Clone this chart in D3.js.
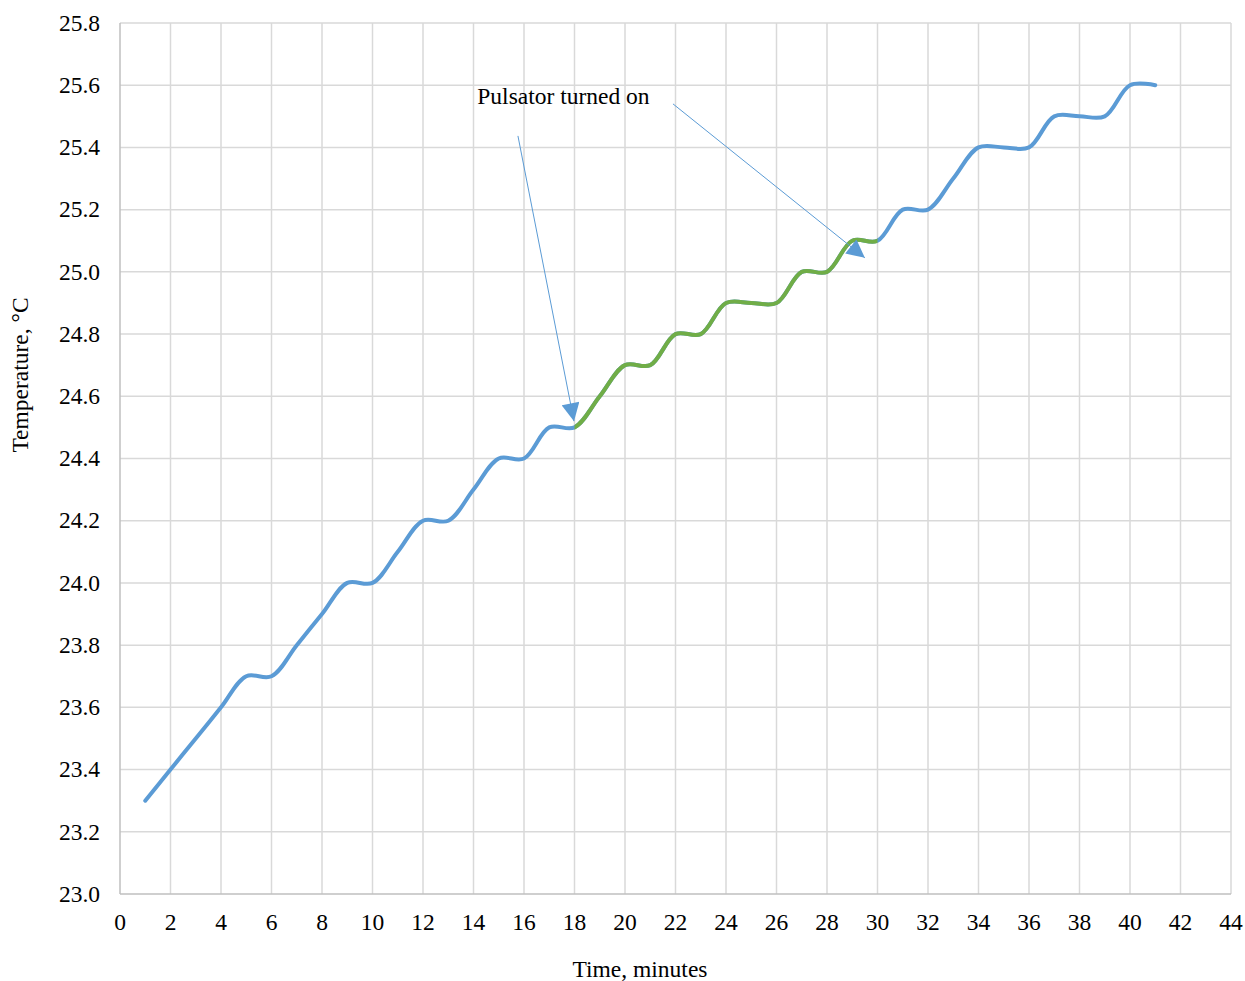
<!DOCTYPE html>
<html>
<head>
<meta charset="utf-8">
<script src="https://cdn.jsdelivr.net/npm/d3@7"></script>
<style>
  body { margin: 0; background: #fff; }
  text { font-family: "Liberation Serif", "Times New Roman", serif; }
</style>
</head>
<body>
<div id="chart"></div>
<script>
// minutes and measured temperature
const minutes = [1, 2, 3, 4, 5, 6, 7, 8, 9, 10, 11, 12, 13, 14, 15, 16, 17, 18, 19, 20, 21,
    22, 23, 24, 25, 26, 27, 28, 29, 30, 31, 32, 33, 34, 35, 36, 37, 38, 39, 40, 41];
const temperature = [23.3, 23.4, 23.5, 23.6, 23.7, 23.7, 23.8, 23.9, 24.0, 24.0, 24.1, 24.2, 24.2,
    24.3, 24.4, 24.4, 24.5, 24.5, 24.6, 24.7, 24.7, 24.8, 24.8, 24.9, 24.9, 24.9, 25.0, 25.0,
    25.1, 25.1, 25.2, 25.2, 25.3, 25.4, 25.4, 25.4, 25.5, 25.5, 25.5, 25.6, 25.6];
// pulsator period (minutes) drawn in green
const pulsatorOn = [18, 30];

const xTicks = d3.range(0, 45, 2);
const yTicks = [23.0, 23.2, 23.4, 23.6, 23.8, 24.0, 24.2, 24.4, 24.6, 24.8, 25.0, 25.2, 25.4, 25.6, 25.8];

const annotationText = "Pulsator turned on";
const annotationPos = [14.15, 25.54];
// arrows: [from minute, from temp, to minute, to temp]
const arrows = [
    [15.76, 25.437, 17.98, 24.52],
    [21.9, 25.54, 29.5, 25.045]
];

const width = 1245, height = 981;
const margin = { top: 23, right: 14, bottom: 87, left: 120 };
const blue = "#5B9BD5", green = "#70AD47";
const fontSize = 23.5;

const svg = d3.select("#chart").append("svg")
    .attr("width", width)
    .attr("height", height);

const x = d3.scaleLinear().domain([0, 44]).range([margin.left, width - margin.right]);
const y = d3.scaleLinear().domain([23.0, 25.8]).range([height - margin.bottom, margin.top]);

// grid
svg.append("g").selectAll("line").data(xTicks.slice(1))
    .join("line")
    .attr("x1", d => x(d)).attr("x2", d => x(d))
    .attr("y1", y(23.0)).attr("y2", y(25.8))
    .attr("stroke", "#d9d9d9").attr("stroke-width", 1.5);
svg.append("g").selectAll("line").data(yTicks.slice(1))
    .join("line")
    .attr("x1", x(0)).attr("x2", x(44))
    .attr("y1", d => y(d)).attr("y2", d => y(d))
    .attr("stroke", "#d9d9d9").attr("stroke-width", 1.5);

// axis lines
svg.append("line")
    .attr("x1", x(0)).attr("x2", x(0)).attr("y1", y(23.0)).attr("y2", y(25.8))
    .attr("stroke", "#bfbfbf").attr("stroke-width", 1.5);
svg.append("line")
    .attr("x1", x(0)).attr("x2", x(44)).attr("y1", y(23.0)).attr("y2", y(23.0))
    .attr("stroke", "#bfbfbf").attr("stroke-width", 1.5);

// tick labels
svg.append("g").selectAll("text").data(yTicks)
    .join("text")
    .attr("x", x(0) - 20)
    .attr("y", d => y(d))
    .attr("dy", "0.33em")
    .attr("text-anchor", "end")
    .attr("font-size", fontSize)
    .text(d => d.toFixed(1));
svg.append("g").selectAll("text").data(xTicks)
    .join("text")
    .attr("x", d => x(d))
    .attr("y", y(23.0) + 36)
    .attr("text-anchor", "middle")
    .attr("font-size", fontSize)
    .text(d => d);

// axis titles
svg.append("text")
    .attr("x", 640).attr("y", 977)
    .attr("text-anchor", "middle")
    .attr("font-size", fontSize)
    .text("Time, minutes");
svg.append("text")
    .attr("transform", "translate(28, 375) rotate(-90)")
    .attr("text-anchor", "middle")
    .attr("font-size", fontSize)
    .text("Temperature, °C");

// data line
const points = minutes.map((m, i) => ({ m, t: temperature[i] }));
const line = d3.line()
    .x(d => x(d.m))
    .y(d => y(d.t))
    .curve(d3.curveCatmullRom.alpha(0.5));

svg.append("path")
    .datum(points)
    .attr("d", line)
    .attr("fill", "none")
    .attr("stroke", blue)
    .attr("stroke-width", 4)
    .attr("stroke-linecap", "round");

// green overlay: same smooth curve, clipped to pulsator period
svg.append("clipPath").attr("id", "pulse")
    .append("rect")
    .attr("x", x(pulsatorOn[0])).attr("width", x(pulsatorOn[1]) - x(pulsatorOn[0]))
    .attr("y", 0).attr("height", height);
svg.append("path")
    .datum(points)
    .attr("d", line)
    .attr("clip-path", "url(#pulse)")
    .attr("fill", "none")
    .attr("stroke", green)
    .attr("stroke-width", 4);

// annotation
svg.append("defs").append("marker")
    .attr("id", "arrowhead")
    .attr("viewBox", "0 0 10 10")
    .attr("refX", 10).attr("refY", 5)
    .attr("markerWidth", 20).attr("markerHeight", 18)
    .attr("markerUnits", "userSpaceOnUse")
    .attr("orient", "auto")
    .append("path")
    .attr("d", "M0,0 L10,5 L0,10 Z")
    .attr("fill", blue);

svg.append("g").selectAll("line").data(arrows)
    .join("line")
    .attr("x1", d => x(d[0])).attr("y1", d => y(d[1]))
    .attr("x2", d => x(d[2])).attr("y2", d => y(d[3]))
    .attr("stroke", blue)
    .attr("stroke-width", 1)
    .attr("marker-end", "url(#arrowhead)");

svg.append("text")
    .attr("x", x(annotationPos[0]))
    .attr("y", y(annotationPos[1]))
    .attr("font-size", fontSize)
    .text(annotationText);
</script>
</body>
</html>
